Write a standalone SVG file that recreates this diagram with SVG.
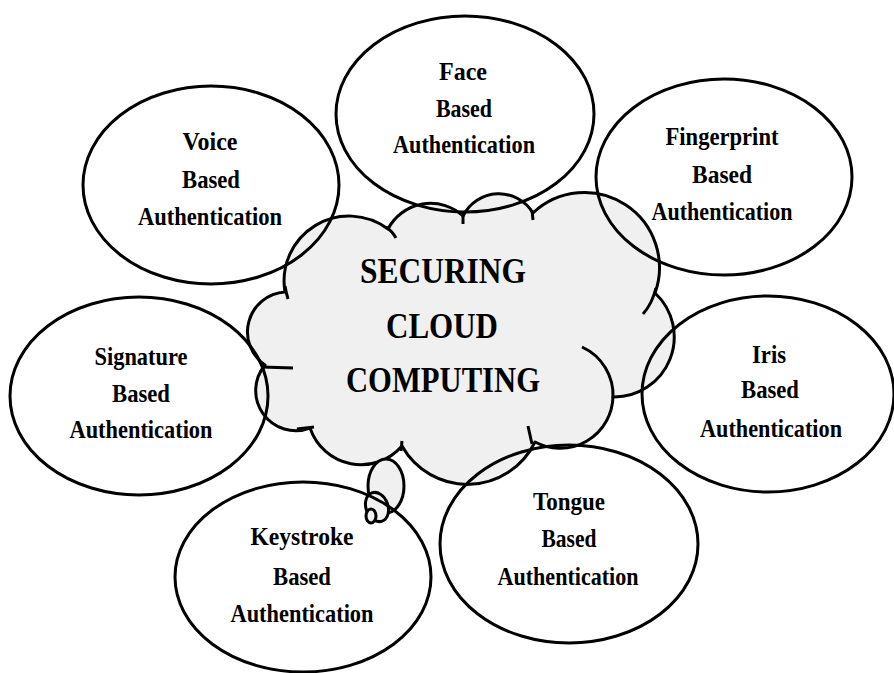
<svg xmlns="http://www.w3.org/2000/svg" width="894" height="673" viewBox="0 0 894 673">
<style>
  .node { fill: none; stroke: #000; stroke-width: 3; }
  .cloud { fill: #f0f0f0; stroke: #000; stroke-width: 3; stroke-linejoin: round; }
  .tail { fill: none; stroke: #000; stroke-width: 3; stroke-linecap: butt; }
  .lbl { font-family: "Liberation Serif", "Times New Roman", serif; font-weight: bold; font-size: 26px; fill: #000; text-anchor: middle; }
  .big { font-family: "Liberation Serif", "Times New Roman", serif; font-weight: bold; font-size: 36px; fill: #000; text-anchor: middle; }
</style>
<rect width="894" height="673" fill="#fff"/>

<g id="cloud">
  <path class="cloud" d="M285,292 A65,65 0 0 1 388,229 A48,48 0 0 1 463,216 A40,40 0 0 1 533,213 A75,75 0 0 1 655,293 A60,60 0 0 1 613,397 A53,53 0 0 1 535,442 A75,75 0 0 1 402,446 A54,54 0 0 1 310,428 A40,40 0 0 1 265,365 A40,40 0 0 1 285,292 Z"/>
  <path class="tail" d="M285,286 Q286,292 288,299"/>
  <path class="tail" d="M386,227 Q392,231 396,238"/>
  <path class="tail" d="M463,213 L463,224"/>
  <path class="tail" d="M532,210 L533,220"/>
  <path class="tail" d="M656,288 Q652,304 643,314"/>
  <path class="tail" d="M582,347 A53,53 0 0 1 613,398"/>
  <path class="tail" d="M528,426 L532,444"/>
  <path class="tail" d="M402,441 L401,451"/>
  <path class="tail" d="M297,429 L314,427"/>
  <path class="tail" d="M262,367 L293,368"/>
  <ellipse class="cloud" cx="386" cy="486" rx="18" ry="27"/>
  <ellipse class="cloud" cx="377" cy="507" rx="11" ry="15" transform="rotate(-20 377 507)"/>
  <ellipse class="cloud" cx="371" cy="516" rx="5" ry="7"/>
  <text class="big" x="443" y="283" textLength="166" lengthAdjust="spacingAndGlyphs">SECURING</text>
  <text class="big" x="442" y="338" textLength="112" lengthAdjust="spacingAndGlyphs">CLOUD</text>
  <text class="big" x="443" y="392" textLength="194" lengthAdjust="spacingAndGlyphs">COMPUTING</text>
</g>

<g id="connectors"></g>

<g id="face">
  <ellipse class="node" cx="465" cy="114" rx="129" ry="98"/>
  <text class="lbl" x="463" y="80" textLength="48" lengthAdjust="spacingAndGlyphs">Face</text>
  <text class="lbl" x="464" y="117" textLength="56" lengthAdjust="spacingAndGlyphs">Based</text>
  <text class="lbl" x="464" y="153" textLength="142" lengthAdjust="spacingAndGlyphs">Authentication</text>
</g>

<g id="voice">
  <ellipse class="node" cx="211" cy="185" rx="128" ry="99"/>
  <text class="lbl" x="210" y="150" textLength="55" lengthAdjust="spacingAndGlyphs">Voice</text>
  <text class="lbl" x="211" y="188" textLength="58" lengthAdjust="spacingAndGlyphs">Based</text>
  <text class="lbl" x="210" y="225" textLength="144" lengthAdjust="spacingAndGlyphs">Authentication</text>
</g>

<g id="fingerprint">
  <ellipse class="node" cx="724" cy="177" rx="128" ry="98"/>
  <text class="lbl" x="722" y="145" textLength="113" lengthAdjust="spacingAndGlyphs">Fingerprint</text>
  <text class="lbl" x="722" y="183" textLength="60" lengthAdjust="spacingAndGlyphs">Based</text>
  <text class="lbl" x="722" y="220" textLength="141" lengthAdjust="spacingAndGlyphs">Authentication</text>
</g>

<g id="signature">
  <ellipse class="node" cx="139" cy="396" rx="129" ry="99"/>
  <text class="lbl" x="141" y="365" textLength="93" lengthAdjust="spacingAndGlyphs">Signature</text>
  <text class="lbl" x="141" y="402" textLength="58" lengthAdjust="spacingAndGlyphs">Based</text>
  <text class="lbl" x="141" y="438" textLength="143" lengthAdjust="spacingAndGlyphs">Authentication</text>
</g>

<g id="iris">
  <ellipse class="node" cx="768" cy="394" rx="126" ry="98"/>
  <text class="lbl" x="769" y="363" textLength="34" lengthAdjust="spacingAndGlyphs">Iris</text>
  <text class="lbl" x="770" y="398" textLength="58" lengthAdjust="spacingAndGlyphs">Based</text>
  <text class="lbl" x="771" y="437" textLength="142" lengthAdjust="spacingAndGlyphs">Authentication</text>
</g>

<g id="keystroke">
  <ellipse class="node" cx="303" cy="577" rx="128" ry="95"/>
  <text class="lbl" x="302" y="545" textLength="103" lengthAdjust="spacingAndGlyphs">Keystroke</text>
  <text class="lbl" x="302" y="585" textLength="58" lengthAdjust="spacingAndGlyphs">Based</text>
  <text class="lbl" x="302" y="622" textLength="143" lengthAdjust="spacingAndGlyphs">Authentication</text>
</g>

<g id="tongue">
  <ellipse class="node" cx="569" cy="544" rx="129" ry="99"/>
  <text class="lbl" x="569" y="510" textLength="72" lengthAdjust="spacingAndGlyphs">Tongue</text>
  <text class="lbl" x="569" y="547" textLength="55" lengthAdjust="spacingAndGlyphs">Based</text>
  <text class="lbl" x="568" y="585" textLength="141" lengthAdjust="spacingAndGlyphs">Authentication</text>
</g>
</svg>
